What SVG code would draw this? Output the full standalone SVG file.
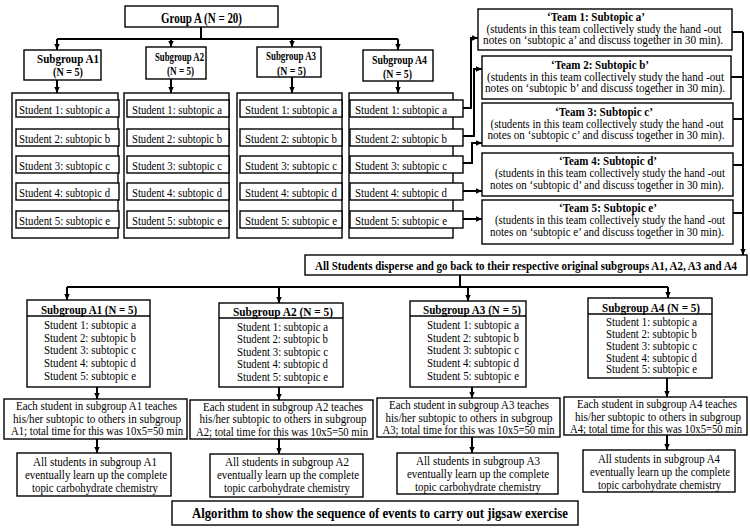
<svg xmlns="http://www.w3.org/2000/svg" width="750" height="531" viewBox="0 0 750 531">
<style>
text{font-family:"Liberation Serif","Times New Roman",serif;fill:#000}
.box{fill:#fff;stroke:#000;stroke-width:1.4}
.ln{fill:none;stroke:#000;stroke-width:1.4}
.conn path{fill:none;stroke:#000;stroke-width:2}
.b{font-weight:bold}
.m{text-anchor:middle}
.r{font-size:12.5px}
.e{font-size:12px}
.s{font-size:12px}
.s4{font-size:11.5px}
.t{font-size:11.5px}
.h{font-size:13px;font-weight:bold}
</style>
<defs>
<marker id="ah" viewBox="0 0 10 10" refX="10" refY="5" markerWidth="6" markerHeight="6" markerUnits="userSpaceOnUse" orient="auto"><path d="M0,0.5 L10,5 L0,9.5 z" fill="#000"/></marker>
</defs>

<g id="connectors" class="conn">
<path d="M201,27 V39"/>
<path d="M57,39 H398"/>
<path d="M57,39 V50" marker-end="url(#ah)"/>
<path d="M171,39 V47" marker-end="url(#ah)"/>
<path d="M292,39 V47" marker-end="url(#ah)"/>
<path d="M398,39 V50" marker-end="url(#ah)"/>
<path d="M57,80 V93" marker-end="url(#ah)"/>
<path d="M171,79 V93" marker-end="url(#ah)"/>
<path d="M292,77 V93" marker-end="url(#ah)"/>
<path d="M398,81 V93" marker-end="url(#ah)"/>
<path d="M463,108 H471 V38 H478" marker-end="url(#ah)"/>
<path d="M463,136 H474 V69 H482" marker-end="url(#ah)"/>
<path d="M463,163 H472 V143 H482" marker-end="url(#ah)"/>
<path d="M463,191 H482" marker-end="url(#ah)"/>
<path d="M463,219 H482" marker-end="url(#ah)"/>
<path d="M732,32 H743"/>
<path d="M731,77 H743"/>
<path d="M733,119 H743"/>
<path d="M733,165 H743"/>
<path d="M733,213 H743"/>
<path d="M743,32 V255" marker-end="url(#ah)"/>
<path d="M460,275 V287"/>
<path d="M67,287 H668"/>
<path d="M67,287 V300" marker-end="url(#ah)"/>
<path d="M279,287 V303" marker-end="url(#ah)"/>
<path d="M468,287 V301" marker-end="url(#ah)"/>
<path d="M668,287 V298" marker-end="url(#ah)"/>
<path d="M97,387 V399" marker-end="url(#ah)"/>
<path d="M97,439 V453" marker-end="url(#ah)"/>
<path d="M279,387 V400" marker-end="url(#ah)"/>
<path d="M279,439 V454" marker-end="url(#ah)"/>
<path d="M472,387 V398" marker-end="url(#ah)"/>
<path d="M472,437 V453" marker-end="url(#ah)"/>
<path d="M667,378 V397" marker-end="url(#ah)"/>
<path d="M667,435 V450" marker-end="url(#ah)"/>
</g>

<g id="groupA">
<rect class="box" x="125" y="6" width="153" height="21"/>
<text class="b m" x="201.5" y="22.5" font-size="14" textLength="81" lengthAdjust="spacingAndGlyphs">Group A (N = 20)</text>
</g>

<g id="sgA1">
<rect class="box" x="24" y="50" width="77" height="30"/>
<text class="b m" x="68" y="63" font-size="13" textLength="62" lengthAdjust="spacingAndGlyphs">Subgroup A1</text>
<text class="b m" x="68" y="76" font-size="12.5" textLength="30" lengthAdjust="spacingAndGlyphs">(N = 5)</text>
</g>
<g id="sgA2">
<rect class="box" x="146" y="47" width="60" height="32"/>
<text class="b m" x="179.5" y="61" font-size="11.5" textLength="49" lengthAdjust="spacingAndGlyphs">Subgroup A2</text>
<text class="b m" x="180.5" y="74.5" font-size="12" textLength="27" lengthAdjust="spacingAndGlyphs">(N = 5)</text>
</g>
<g id="sgA3">
<rect class="box" x="257" y="47" width="64" height="30"/>
<text class="b m" x="291" y="60" font-size="11.5" textLength="50" lengthAdjust="spacingAndGlyphs">Subgroup A3</text>
<text class="b m" x="291.5" y="74.5" font-size="12" textLength="29" lengthAdjust="spacingAndGlyphs">(N = 5)</text>
</g>
<g id="sgA4">
<rect class="box" x="363" y="50" width="70" height="31"/>
<text class="b m" x="399.5" y="64" font-size="12" textLength="55" lengthAdjust="spacingAndGlyphs">Subgroup A4</text>
<text class="b m" x="397.5" y="77.5" font-size="12" textLength="29" lengthAdjust="spacingAndGlyphs">(N = 5)</text>
</g>

<g id="colA1">
<rect class="box" x="12" y="93" width="106" height="145"/>
<rect class="box" x="16" y="100" width="103" height="17"/>
<rect class="box" x="16" y="129" width="103" height="17"/>
<rect class="box" x="16" y="156" width="103" height="17"/>
<rect class="box" x="16" y="183" width="103" height="17"/>
<rect class="box" x="16" y="211" width="103" height="17"/>
<text class="r" x="19" y="113.5" textLength="91" lengthAdjust="spacingAndGlyphs">Student 1: subtopic a</text>
<text class="r" x="19" y="142.5" textLength="91" lengthAdjust="spacingAndGlyphs">Student 2: subtopic b</text>
<text class="r" x="19" y="169.5" textLength="91" lengthAdjust="spacingAndGlyphs">Student 3: subtopic c</text>
<text class="r" x="19" y="196.5" textLength="91" lengthAdjust="spacingAndGlyphs">Student 4: subtopic d</text>
<text class="r" x="19" y="224.5" textLength="91" lengthAdjust="spacingAndGlyphs">Student 5: subtopic e</text>
</g>
<g id="colA2">
<rect class="box" x="124" y="93" width="105" height="145"/>
<rect class="box" x="127" y="100" width="102" height="17"/>
<rect class="box" x="127" y="129" width="102" height="17"/>
<rect class="box" x="127" y="156" width="102" height="17"/>
<rect class="box" x="127" y="183" width="102" height="17"/>
<rect class="box" x="127" y="211" width="102" height="17"/>
<text class="r" x="132" y="113.5" textLength="90" lengthAdjust="spacingAndGlyphs">Student 1: subtopic a</text>
<text class="r" x="132" y="142.5" textLength="90" lengthAdjust="spacingAndGlyphs">Student 2: subtopic b</text>
<text class="r" x="132" y="169.5" textLength="90" lengthAdjust="spacingAndGlyphs">Student 3: subtopic c</text>
<text class="r" x="132" y="196.5" textLength="90" lengthAdjust="spacingAndGlyphs">Student 4: subtopic d</text>
<text class="r" x="132" y="224.5" textLength="90" lengthAdjust="spacingAndGlyphs">Student 5: subtopic e</text>
</g>
<g id="colA3">
<rect class="box" x="237" y="93" width="105" height="145"/>
<rect class="box" x="240" y="100" width="102" height="17"/>
<rect class="box" x="240" y="129" width="102" height="17"/>
<rect class="box" x="240" y="156" width="102" height="17"/>
<rect class="box" x="240" y="183" width="102" height="17"/>
<rect class="box" x="240" y="211" width="102" height="17"/>
<text class="r" x="245" y="113.5" textLength="92" lengthAdjust="spacingAndGlyphs">Student 1: subtopic a</text>
<text class="r" x="245" y="142.5" textLength="92" lengthAdjust="spacingAndGlyphs">Student 2: subtopic b</text>
<text class="r" x="245" y="169.5" textLength="92" lengthAdjust="spacingAndGlyphs">Student 3: subtopic c</text>
<text class="r" x="245" y="196.5" textLength="92" lengthAdjust="spacingAndGlyphs">Student 4: subtopic d</text>
<text class="r" x="245" y="224.5" textLength="92" lengthAdjust="spacingAndGlyphs">Student 5: subtopic e</text>
</g>
<g id="colA4">
<rect class="box" x="349" y="93" width="104" height="145"/>
<rect class="box" x="350" y="100" width="113" height="17"/>
<rect class="box" x="350" y="129" width="113" height="17"/>
<rect class="box" x="350" y="156" width="113" height="17"/>
<rect class="box" x="350" y="183" width="113" height="17"/>
<rect class="box" x="350" y="211" width="113" height="17"/>
<text class="r" x="355" y="113.5" textLength="92" lengthAdjust="spacingAndGlyphs">Student 1: subtopic a</text>
<text class="r" x="355" y="142.5" textLength="92" lengthAdjust="spacingAndGlyphs">Student 2: subtopic b</text>
<text class="r" x="355" y="169.5" textLength="92" lengthAdjust="spacingAndGlyphs">Student 3: subtopic c</text>
<text class="r" x="355" y="196.5" textLength="92" lengthAdjust="spacingAndGlyphs">Student 4: subtopic d</text>
<text class="r" x="355" y="224.5" textLength="92" lengthAdjust="spacingAndGlyphs">Student 5: subtopic e</text>
</g>

<g id="team1">
<rect class="box" x="478" y="9" width="254" height="41"/>
<text class="b m" x="596" y="21" font-size="11.5" textLength="98" lengthAdjust="spacingAndGlyphs">‘Team 1: Subtopic a’</text>
<text class="t m" x="604" y="32.5" textLength="235" lengthAdjust="spacingAndGlyphs">(students in this team collectively study the hand -out</text>
<text class="t m" x="603" y="43.5" textLength="240" lengthAdjust="spacingAndGlyphs">notes on ‘subtopic a’ and discuss together in 30 min).</text>
</g>
<g id="team2">
<rect class="box" x="482" y="56" width="249" height="43"/>
<text class="b m" x="600" y="68.5" font-size="11.5" textLength="98" lengthAdjust="spacingAndGlyphs">‘Team 2: Subtopic b’</text>
<text class="t m" x="605.5" y="80.5" textLength="237" lengthAdjust="spacingAndGlyphs">(students in this team collectively study the hand -out</text>
<text class="t m" x="605" y="92" textLength="240" lengthAdjust="spacingAndGlyphs">notes on ‘subtopic b’ and discuss together in 30 min).</text>
</g>
<g id="team3">
<rect class="box" x="482" y="103" width="251" height="43"/>
<text class="b m" x="604" y="115.5" font-size="11.5" textLength="98" lengthAdjust="spacingAndGlyphs">‘Team 3: Subtopic c’</text>
<text class="t m" x="607" y="127.5" textLength="233" lengthAdjust="spacingAndGlyphs">(students in this team collectively study the hand -out</text>
<text class="t m" x="606" y="139" textLength="237" lengthAdjust="spacingAndGlyphs">notes on ‘subtopic c’ and discuss together in 30 min).</text>
</g>
<g id="team4">
<rect class="box" x="482" y="153" width="251" height="43"/>
<text class="b m" x="608" y="165" font-size="11.5" textLength="98" lengthAdjust="spacingAndGlyphs">‘Team 4: Subtopic d’</text>
<text class="t m" x="610" y="177" textLength="230" lengthAdjust="spacingAndGlyphs">(students in this team collectively study the hand -out</text>
<text class="t m" x="607" y="189" textLength="234" lengthAdjust="spacingAndGlyphs">notes on ‘subtopic d’ and discuss together in 30 min).</text>
</g>
<g id="team5">
<rect class="box" x="482" y="200" width="251" height="44"/>
<text class="b m" x="608" y="211.5" font-size="11.5" textLength="98" lengthAdjust="spacingAndGlyphs">‘Team 5: Subtopic e’</text>
<text class="t m" x="610" y="224" textLength="230" lengthAdjust="spacingAndGlyphs">(students in this team collectively study the hand -out</text>
<text class="t m" x="607" y="235.5" textLength="234" lengthAdjust="spacingAndGlyphs">notes on ‘subtopic e’ and discuss together in 30 min).</text>
</g>

<g id="disperse">
<rect class="box" x="305" y="255" width="442" height="20"/>
<text class="b m" x="526" y="270" font-size="13" textLength="422" lengthAdjust="spacingAndGlyphs">All Students disperse and go back to their respective original subgroups A1, A2, A3 and A4</text>
</g>

<g id="bA1">
<rect class="box" x="27" y="300" width="123" height="87"/>
<line class="ln" x1="27" y1="316" x2="150" y2="316"/>
<text class="h m" x="89" y="313.5" textLength="96" lengthAdjust="spacingAndGlyphs">Subgroup A1 (N = 5)</text>
<text class="s m" x="90" y="329" textLength="92" lengthAdjust="spacingAndGlyphs">Student 1: subtopic a</text>
<text class="s m" x="90" y="341.5" textLength="92" lengthAdjust="spacingAndGlyphs">Student 2: subtopic b</text>
<text class="s m" x="90" y="354" textLength="92" lengthAdjust="spacingAndGlyphs">Student 3: subtopic c</text>
<text class="s m" x="90" y="366.5" textLength="92" lengthAdjust="spacingAndGlyphs">Student 4: subtopic d</text>
<text class="s m" x="90" y="380" textLength="92" lengthAdjust="spacingAndGlyphs">Student 5: subtopic e</text>
</g>
<g id="bA2">
<rect class="box" x="219" y="303" width="124" height="84"/>
<line class="ln" x1="219" y1="318" x2="343" y2="318"/>
<text class="h m" x="283" y="315.5" textLength="100" lengthAdjust="spacingAndGlyphs">Subgroup A2 (N = 5)</text>
<text class="s m" x="282.5" y="330.5" textLength="91" lengthAdjust="spacingAndGlyphs">Student 1: subtopic a</text>
<text class="s m" x="282.5" y="343" textLength="91" lengthAdjust="spacingAndGlyphs">Student 2: subtopic b</text>
<text class="s m" x="282.5" y="355.5" textLength="91" lengthAdjust="spacingAndGlyphs">Student 3: subtopic c</text>
<text class="s m" x="282.5" y="368" textLength="91" lengthAdjust="spacingAndGlyphs">Student 4: subtopic d</text>
<text class="s m" x="282.5" y="381" textLength="91" lengthAdjust="spacingAndGlyphs">Student 5: subtopic e</text>
</g>
<g id="bA3">
<rect class="box" x="410" y="301" width="116" height="86"/>
<line class="ln" x1="410" y1="316" x2="526" y2="316"/>
<text class="h m" x="472" y="313.5" textLength="98" lengthAdjust="spacingAndGlyphs">Subgroup A3 (N = 5)</text>
<text class="s m" x="473" y="329" textLength="92" lengthAdjust="spacingAndGlyphs">Student 1: subtopic a</text>
<text class="s m" x="473" y="341.5" textLength="92" lengthAdjust="spacingAndGlyphs">Student 2: subtopic b</text>
<text class="s m" x="473" y="354" textLength="92" lengthAdjust="spacingAndGlyphs">Student 3: subtopic c</text>
<text class="s m" x="473" y="366.5" textLength="92" lengthAdjust="spacingAndGlyphs">Student 4: subtopic d</text>
<text class="s m" x="473" y="380" textLength="92" lengthAdjust="spacingAndGlyphs">Student 5: subtopic e</text>
</g>
<g id="bA4">
<rect class="box" x="588" y="298" width="124" height="80"/>
<line class="ln" x1="588" y1="314" x2="712" y2="314"/>
<text class="h m" x="651" y="311.5" textLength="98" lengthAdjust="spacingAndGlyphs">Subgroup A4 (N = 5)</text>
<text class="s4 m" x="651.5" y="326" textLength="91" lengthAdjust="spacingAndGlyphs">Student 1: subtopic a</text>
<text class="s4 m" x="651.5" y="338" textLength="91" lengthAdjust="spacingAndGlyphs">Student 2: subtopic b</text>
<text class="s4 m" x="651.5" y="350" textLength="91" lengthAdjust="spacingAndGlyphs">Student 3: subtopic c</text>
<text class="s4 m" x="651.5" y="361.5" textLength="91" lengthAdjust="spacingAndGlyphs">Student 4: subtopic d</text>
<text class="s4 m" x="651.5" y="373" textLength="91" lengthAdjust="spacingAndGlyphs">Student 5: subtopic e</text>
</g>

<g id="teachA1">
<rect class="box" x="4" y="399" width="183" height="40"/>
<text class="e m" x="96.5" y="410" textLength="161" lengthAdjust="spacingAndGlyphs">Each student in subgroup A1 teaches</text>
<text class="e m" x="97" y="422.5" textLength="168" lengthAdjust="spacingAndGlyphs">his/her subtopic to others in subgroup</text>
<text class="e m" x="97" y="435" textLength="172" lengthAdjust="spacingAndGlyphs">A1; total time for this was 10x5=50 min</text>
</g>
<g id="teachA2">
<rect class="box" x="190" y="400" width="183" height="39"/>
<text class="e m" x="283" y="410.5" textLength="160" lengthAdjust="spacingAndGlyphs">Each student in subgroup A2 teaches</text>
<text class="e m" x="283" y="423" textLength="167" lengthAdjust="spacingAndGlyphs">his/her subtopic to others in subgroup</text>
<text class="e m" x="282" y="435.5" textLength="172" lengthAdjust="spacingAndGlyphs">A2; total time for this was 10x5=50 min</text>
</g>
<g id="teachA3">
<rect class="box" x="377" y="398" width="183" height="39"/>
<text class="e m" x="469" y="409" textLength="160" lengthAdjust="spacingAndGlyphs">Each student in subgroup A3 teaches</text>
<text class="e m" x="469" y="421.5" textLength="167" lengthAdjust="spacingAndGlyphs">his/her subtopic to others in subgroup</text>
<text class="e m" x="468.5" y="434" textLength="172" lengthAdjust="spacingAndGlyphs">A3; total time for this was 10x5=50 min</text>
</g>
<g id="teachA4">
<rect class="box" x="564" y="397" width="183" height="38"/>
<text class="e m" x="657" y="408" textLength="160" lengthAdjust="spacingAndGlyphs">Each student in subgroup A4 teaches</text>
<text class="e m" x="658" y="420.5" textLength="166" lengthAdjust="spacingAndGlyphs">his/her subtopic to others in subgroup</text>
<text class="e m" x="656" y="433" textLength="172" lengthAdjust="spacingAndGlyphs">A4; total time for this was 10x5=50 min</text>
</g>

<g id="learnA1">
<rect class="box" x="17" y="453" width="154" height="43"/>
<text class="r m" x="95" y="466" textLength="124" lengthAdjust="spacingAndGlyphs">All students in subgroup A1</text>
<text class="r m" x="96" y="479" textLength="142" lengthAdjust="spacingAndGlyphs">eventually learn up the complete</text>
<text class="r m" x="95" y="492" textLength="126" lengthAdjust="spacingAndGlyphs">topic carbohydrate chemistry</text>
</g>
<g id="learnA2">
<rect class="box" x="210" y="454" width="153" height="43"/>
<text class="r m" x="287" y="466" textLength="124" lengthAdjust="spacingAndGlyphs">All students in subgroup A2</text>
<text class="r m" x="288" y="479" textLength="142" lengthAdjust="spacingAndGlyphs">eventually learn up the complete</text>
<text class="r m" x="287" y="492" textLength="126" lengthAdjust="spacingAndGlyphs">topic carbohydrate chemistry</text>
</g>
<g id="learnA3">
<rect class="box" x="397" y="453" width="161" height="41"/>
<text class="r m" x="478" y="464.5" textLength="124" lengthAdjust="spacingAndGlyphs">All students in subgroup A3</text>
<text class="r m" x="478" y="477.5" textLength="142" lengthAdjust="spacingAndGlyphs">eventually learn up the complete</text>
<text class="r m" x="478" y="490.5" textLength="126" lengthAdjust="spacingAndGlyphs">topic carbohydrate chemistry</text>
</g>
<g id="learnA4">
<rect class="box" x="583" y="450" width="152" height="42"/>
<text class="r m" x="659" y="462.5" textLength="122" lengthAdjust="spacingAndGlyphs">All students in subgroup A4</text>
<text class="r m" x="660" y="476" textLength="140" lengthAdjust="spacingAndGlyphs">eventually learn up the complete</text>
<text class="r m" x="659.5" y="489" textLength="123" lengthAdjust="spacingAndGlyphs">topic carbohydrate chemistry</text>
</g>

<g id="caption">
<rect class="box" x="172" y="501" width="406" height="24"/>
<text class="b m" x="380" y="518" font-size="15" textLength="376" lengthAdjust="spacingAndGlyphs">Algorithm to show the sequence of events to carry out jigsaw exercise</text>
</g>
</svg>
